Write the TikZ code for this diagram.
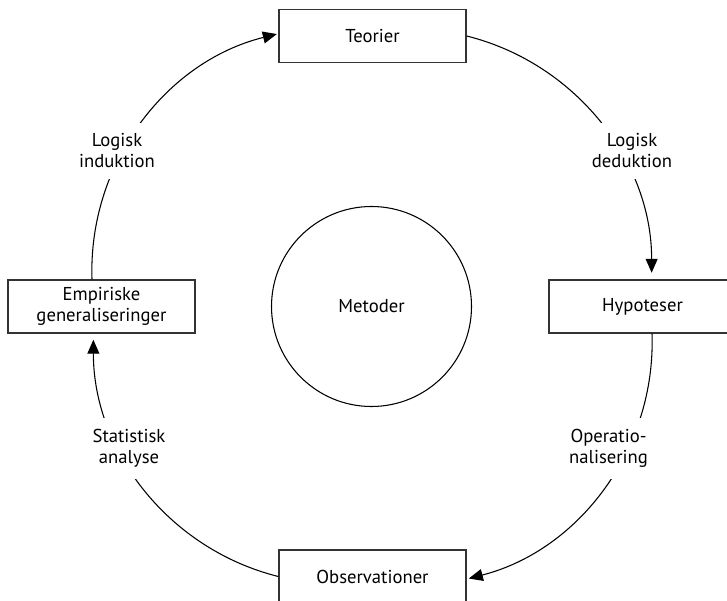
\documentclass[tikz,border=0pt]{standalone}
\usepackage{fontspec}
\setmainfont{PT Sans}
\usetikzlibrary{arrows.meta}
\begin{document}
\begin{tikzpicture}[x=0.75pt,y=0.75pt,
  txt/.style={font=\fontsize{14}{15.75}\selectfont},
  box/.style={txt, draw=black!80, line width=1pt, minimum width=140.25pt, minimum height=39.75pt, inner sep=0pt, align=center},
  lbl/.style={txt, fill=white, inner xsep=1.5pt, inner ysep=8.25pt, align=center},
  link/.style={line width=0.8pt, -{Triangle[length=10.5pt,width=9pt]}}]
\useasboundingbox (0,0) rectangle (727,600);
\node[box] (teo) at (372.5,564) {Teorier};
\node[box] (hyp) at (642.5,293.5) {Hypoteser};
\node[box] (obs) at (372.5,23.5) {Observationer};
\node[box] (emp) at (101.5,293.5) {Empiriske\\generaliseringer};
\node[txt, draw, line width=0.8pt, circle, minimum size=150pt, inner sep=0pt] (met) at (371.5,293.5) {Metoder};
\draw[link] (teo.east) arc[start angle=76, end angle=0, radius=183pt];
\draw[link] ([xshift=7.125pt]hyp.south) arc[start angle=2, end angle=-75.6, radius=183pt];
\draw[link] (obs.west) arc[start angle=256, end angle=180, radius=183pt];
\draw[link] ([xshift=-7.125pt]emp.north) arc[start angle=182, end angle=104, radius=183pt];
\node[lbl] (ded) at (632,449) {Logisk\\deduktion};
\node[lbl] (ind) at (117,449) {Logisk\\induktion};
\node[lbl] (ops) at (608.5,151.5) {Operatio-\\nalisering};
\node[lbl] (sta) at (129,151.5) {Statistisk\\analyse};
\end{tikzpicture}
\end{document}
